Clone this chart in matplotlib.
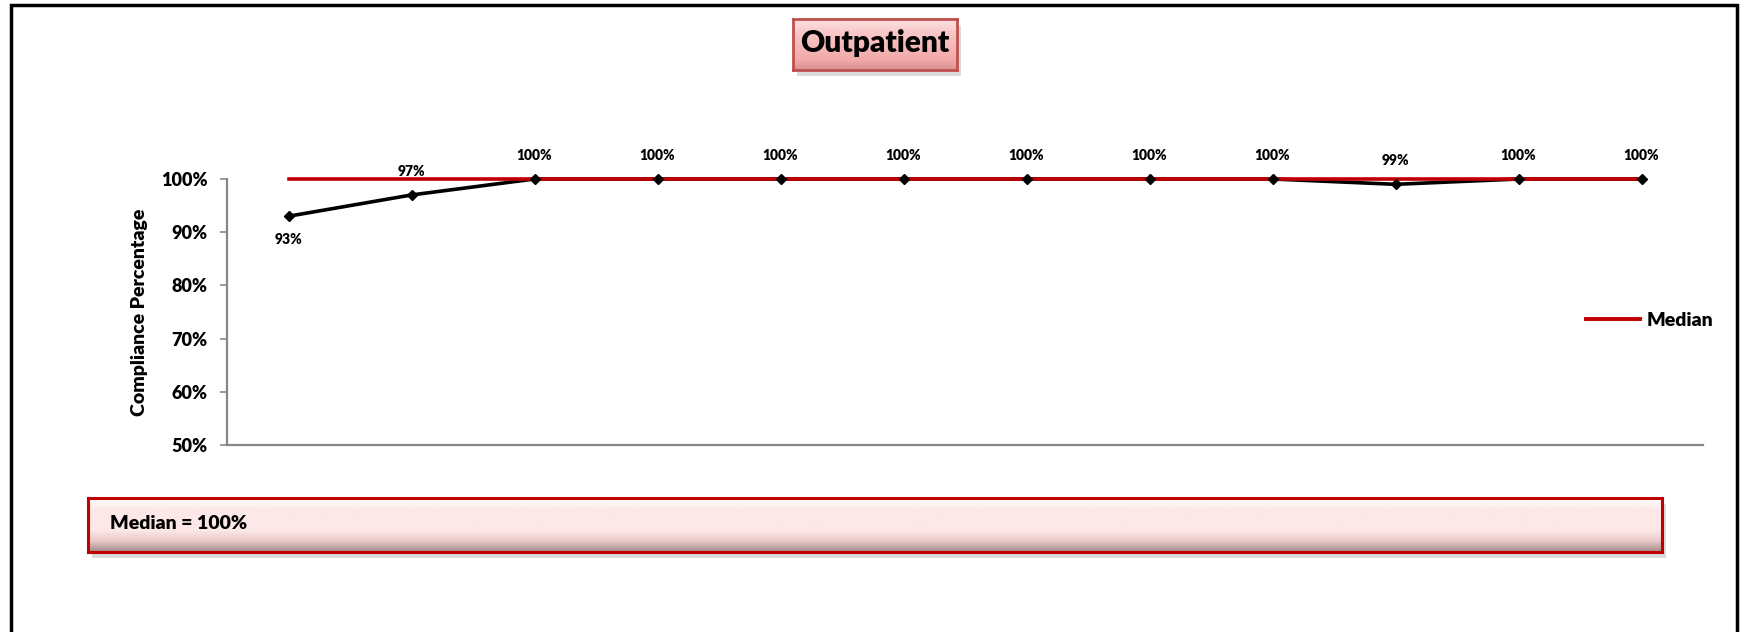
import numpy as np
import matplotlib
matplotlib.use('Agg')
import matplotlib.pyplot as plt
from matplotlib.patches import Rectangle
from matplotlib.lines import Line2D
from matplotlib.colors import LinearSegmentedColormap

plt.rcParams['font.family'] = ['Lato', 'DejaVu Sans']
plt.rcParams['font.weight'] = 'bold'

TITLE = 'Outpatient'
Y_LABEL = 'Compliance Percentage'
values = [93, 97, 100, 100, 100, 100, 100, 100, 100, 99, 100, 100]
median_value = 100
y_ticks = [50, 60, 70, 80, 90, 100]

W, H = 1743, 632
RED = '#c00000'


def fx(px):
    return px / W


def fy(py):
    return 1 - py / H


def gradient_box(fig, x0, y0, x1, y1, colors, stops, edge, lw):
    # shadow first, then a small axes holding a vertical gradient
    shadow = Rectangle((fx(x0 + 4), fy(y1 + 6)), fx(x1 - x0), fy(y0) - fy(y1),
                       transform=fig.transFigure, facecolor='#9a9a9a',
                       alpha=0.35, edgecolor='none', zorder=-1)
    fig.add_artist(shadow)
    bax = fig.add_axes([fx(x0), fy(y1), fx(x1 - x0), fy(y0) - fy(y1)])
    cmap = LinearSegmentedColormap.from_list('g', list(zip(stops, colors)))
    grad = np.linspace(0, 1, 256).reshape(-1, 1)
    bax.imshow(grad, cmap=cmap, aspect='auto', extent=(0, 1, 1, 0))
    bax.set_xlim(0, 1)
    bax.set_ylim(1, 0)
    bax.set_xticks([])
    bax.set_yticks([])
    for s in bax.spines.values():
        s.set_color(edge)
        s.set_linewidth(lw)
    return bax


fig = plt.figure(figsize=(W / 100, H / 100), dpi=100)

# outer frame
fig.add_artist(Rectangle((fx(11), -0.2), fx(1737 - 11), fy(5) + 0.2,
                         transform=fig.transFigure, fill=False,
                         edgecolor='black', linewidth=2.5))

ax = fig.add_axes([fx(227), fy(445), fx(1703 - 227), fy(179) - fy(445)])
x = np.arange(len(values))
ax.plot(x, values, color='black', linewidth=2.6, zorder=2, clip_on=False)
ax.plot([x[0], x[-1]], [median_value, median_value], color=RED, linewidth=2.6,
        zorder=3, clip_on=False)
ax.plot(x, values, linestyle='none', color='black', marker='D', markersize=5.5,
        zorder=4, clip_on=False)

for i, v in enumerate(values):
    off = -17 if i == 0 else 17
    ax.annotate(f'{v}%', (x[i], v), xytext=(0, off), textcoords='offset points',
                ha='center', va='center', fontsize=10, fontweight='heavy')

ax.set_xlim(-0.5, len(values) - 0.5)
ax.set_ylim(50, 100)
ax.set_yticks(y_ticks)
ax.set_yticklabels([f'{t}%' for t in y_ticks], fontsize=13, fontweight='heavy')
ax.set_xticks([])
ax.tick_params(axis='y', length=5, width=1.2, color='#868686', pad=9)
for s in ['top', 'right']:
    ax.spines[s].set_visible(False)
for s in ['left', 'bottom']:
    ax.spines[s].set_color('#868686')
    ax.spines[s].set_linewidth(1.6)

fig.text(fx(140), fy(312), Y_LABEL, rotation=90, ha='center', va='center',
         fontsize=14, fontweight='heavy')

fig.legend(handles=[Line2D([], [], color=RED, linewidth=2.8, label='Median')],
           loc='center left', bbox_to_anchor=(fx(1586), fy(320)),
           frameon=False, borderaxespad=0, borderpad=0, handlelength=2.8,
           handletextpad=0.3, prop={'size': 14, 'weight': 'heavy'})

# title box
tax = gradient_box(fig, 793, 19, 957, 70,
                   ['#fde4e4', '#f8c8c8', '#f2a9a9', '#d99090'],
                   [0.0, 0.25, 0.8, 1.0], '#c0504d', 2.0)
tax.text(0.5, 0.52, TITLE, transform=tax.transAxes, ha='center', va='center',
         fontsize=21.5, fontweight='heavy')

# median box
max_ = gradient_box(fig, 88, 498, 1662, 552,
                    ['#ffffff', '#fde8e8', '#fde8e8', '#e8c8c8', '#a08888'],
                    [0.0, 0.2, 0.6, 0.8, 1.0], RED, 2.2)
max_.text(22 / (1662 - 88), 0.52, f'Median = {median_value}%',
          transform=max_.transAxes, ha='left', va='center',
          fontsize=14, fontweight='heavy')

fig.savefig('out.png', dpi=100)
plt.close(fig)
